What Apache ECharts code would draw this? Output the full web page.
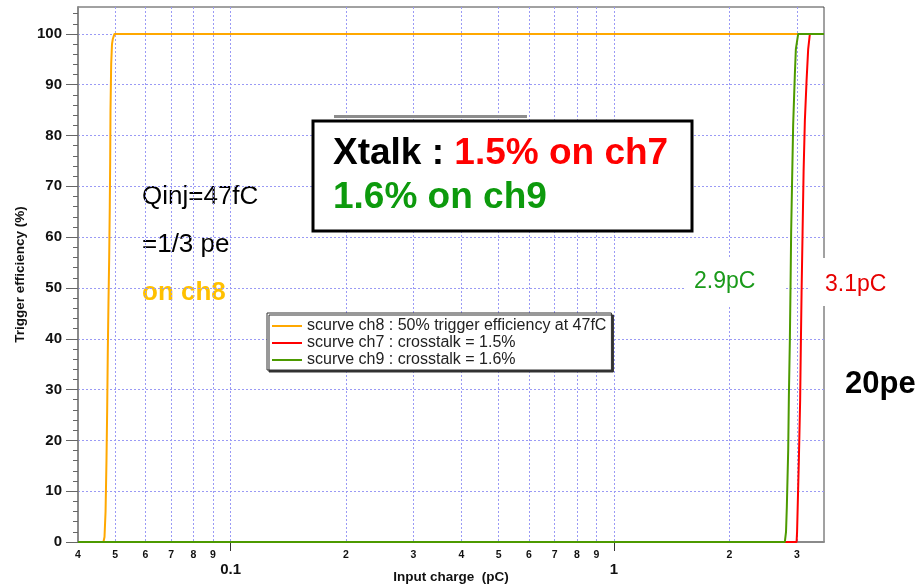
<!DOCTYPE html>
<html>
<head>
<meta charset="utf-8">
<script src="https://cdn.jsdelivr.net/npm/echarts@6/dist/echarts.min.js"></script>
<style>
html,body{margin:0;padding:0;background:#fff;}
#c{width:921px;height:585px;}
</style>
</head>
<body>
<div id="c"></div>
<script>
// ---- data ----
const seriesNames = [
  'scurve ch8 : 50% trigger efficiency at 47fC',
  'scurve ch7 : crosstalk = 1.5%',
  'scurve ch9 : crosstalk = 1.6%'
];
const ch8 = [[0.040,0],[0.0466,0],[0.0469,1],[0.0472,6],[0.04746,16],[0.04766,26],[0.04783,37],[0.04803,47],[0.04824,56],[0.04841,66],[0.04853,75],[0.04862,85],[0.04882,94],[0.04906,98],[0.0493,99],[0.0498,100],[3.53,100]];
const ch7 = [[0.040,0],[2.994,0],[3.003,2],[3.012,6],[3.035,16],[3.059,28],[3.072,39],[3.085,49],[3.104,61],[3.123,73],[3.147,83],[3.18,91],[3.21,97],[3.243,100],[3.53,100]];
const ch9 = [[0.040,0],[2.79,0],[2.81,2],[2.824,7],[2.847,18],[2.859,29],[2.876,40],[2.888,51],[2.898,61],[2.916,72],[2.933,82],[2.963,92],[2.981,97],[3.023,100],[3.53,100]];

const xGridValues = [0.04,0.05,0.06,0.07,0.08,0.09,0.1,0.2,0.3,0.4,0.5,0.6,0.7,0.8,0.9,1,2,3];
const xMinorLabelValues = [0.04,0.05,0.06,0.07,0.08,0.09,0.2,0.3,0.4,0.5,0.6,0.7,0.8,0.9,2,3];
const xMinorLabels = ['4','5','6','7','8','9','2','3','4','5','6','7','8','9','2','3'];
const xMajorValues = [0.1,1];
const xMajorLabels = ['0.1','1'];
const yTickValues = [0,10,20,30,40,50,60,70,80,90,100];
const yMinorTickValues = [2,4,6,8,12,14,16,18,22,24,26,28,32,34,36,38,42,44,46,48,52,54,56,58,62,64,66,68,72,74,76,78,82,84,86,88,92,94,96,98,102,104];
const xMin = 0.04, xMax = 3.53, yMin = 0, yMax = 105.3;

function lookup(vals, labels, v){
  let best = 0, bd = Infinity;
  for (let i = 0; i < vals.length; i++){
    const d = Math.abs(Math.log(vals[i]) - Math.log(v));
    if (d < bd){ bd = d; best = i; }
  }
  return labels[best];
}

const FONT = '"Liberation Sans", Arial, sans-serif';
const gridBlue = '#9a9af5';

const chart = echarts.init(document.getElementById('c'), null, {renderer:'canvas'});
chart.setOption({
  animation:false,
  backgroundColor:'#fff',
  textStyle:{fontFamily:FONT},
  grid:{left:78,right:97,top:7,bottom:43,show:true,borderColor:'#444',borderWidth:1,backgroundColor:'transparent',outerBoundsMode:'none'},
  legend:{
    data:seriesNames,
    orient:'vertical',
    left:267, top:313,
    padding:[5,5,2,5],
    itemGap:1,
    itemWidth:30, itemHeight:2,
    icon:'rect',
    backgroundColor:'#fff',
    borderColor:'#333', borderWidth:1,
    shadowColor:'#333', shadowBlur:0, shadowOffsetX:2, shadowOffsetY:2,
    textStyle:{fontFamily:FONT,fontSize:16,lineHeight:16,color:'#222',padding:[0,0,0,0]},
    selectedMode:false
  },
  xAxis:[
    {
      type:'log', logBase:10, min:xMin, max:xMax, gridIndex:0,
      axisLine:{show:true,onZero:false,lineStyle:{color:'#8a8a8a',width:2}},
      axisTick:{show:false,customValues:xGridValues},
      splitLine:{show:true,lineStyle:{color:gridBlue,type:[2,2],width:1}},
      axisLabel:{customValues:xMinorLabelValues,margin:8,fontSize:10.5,fontWeight:'bold',color:'#111',fontFamily:FONT,
        formatter:function(v){return lookup(xMinorLabelValues,xMinorLabels,v);}},
      name:'Input charge  (pC)', nameLocation:'middle', nameGap:28, nameMoveOverlap:false,
      nameTextStyle:{fontSize:13.5,fontWeight:'bold',color:'#111',fontFamily:FONT}
    },
    {
      type:'log', logBase:10, min:xMin, max:xMax, gridIndex:0, position:'bottom',
      axisLine:{show:false},
      axisTick:{show:true,inside:false,length:9,customValues:xMajorValues,lineStyle:{color:'#333',width:1}},
      splitLine:{show:false},
      axisLabel:{customValues:xMajorValues,margin:20,fontSize:15,fontWeight:'bold',color:'#111',fontFamily:FONT,
        formatter:function(v){return lookup(xMajorValues,xMajorLabels,v);}}
    }
  ],
  yAxis:[
    {
      type:'value', min:yMin, max:yMax, gridIndex:0,
      axisLine:{show:true,onZero:false,lineStyle:{color:'#8a8a8a',width:2}},
      axisTick:{show:true,length:12,customValues:yTickValues,lineStyle:{color:'#666',width:1}},
      splitLine:{show:true,lineStyle:{color:gridBlue,type:[2,2],width:1}},
      axisLabel:{customValues:yTickValues,margin:16,fontSize:15,fontWeight:'bold',color:'#111',fontFamily:FONT},
      name:'Trigger efficiency (%)', nameLocation:'middle', nameGap:51, nameRotate:90, nameMoveOverlap:false,
      nameTextStyle:{fontSize:13.5,fontWeight:'bold',color:'#111',fontFamily:FONT}
    },
    {
      type:'value', min:yMin, max:yMax, gridIndex:0, position:'left',
      axisLine:{show:false},
      axisTick:{show:true,length:5,customValues:yMinorTickValues,lineStyle:{color:'#666',width:1}},
      splitLine:{show:false},
      axisLabel:{show:false}
    }
  ],
  series:[
    {name:seriesNames[0],type:'line',data:ch8,xAxisIndex:0,yAxisIndex:0,showSymbol:false,symbol:'none',lineStyle:{color:'#ffa800',width:2},itemStyle:{color:'#ffa800'},z:2},
    {name:seriesNames[1],type:'line',data:ch7,xAxisIndex:0,yAxisIndex:0,showSymbol:false,symbol:'none',lineStyle:{color:'#ff0000',width:2},itemStyle:{color:'#ff0000'},z:3},
    {name:seriesNames[2],type:'line',data:ch9,xAxisIndex:0,yAxisIndex:0,showSymbol:false,symbol:'none',lineStyle:{color:'#4c9a00',width:2},itemStyle:{color:'#4c9a00'},z:4}
  ],
  graphic:[
    {type:'text',x:142,y:197,style:{text:'Qinj=47fC',font:'26px '+FONT,fill:'#000',verticalAlign:'middle'}},
    {type:'text',x:142,y:245,style:{text:'=1/3 pe',font:'26px '+FONT,fill:'#000',verticalAlign:'middle'}},
    {type:'text',x:142,y:293,style:{text:'on ch8',font:'bold 26px '+FONT,fill:'#ffc000',verticalAlign:'middle'}},
    {type:'rect',shape:{x:334,y:115,width:193,height:3},style:{fill:'#8c8c8c'},z:10},
    {type:'rect',shape:{x:313,y:121,width:379,height:110},style:{fill:'#fff',stroke:'#000',lineWidth:3},z:10},
    {type:'text',x:333,y:154,z:11,style:{text:'{a|Xtalk : }{b|1.5% on ch7}',verticalAlign:'middle',rich:{a:{font:'bold 37px '+FONT,fill:'#000'},b:{font:'bold 37px '+FONT,fill:'#ff0000'}}}},
    {type:'text',x:333,y:198,z:11,style:{text:'1.6% on ch9',font:'bold 37px '+FONT,fill:'#0d9a0d',verticalAlign:'middle'}},
    {type:'rect',shape:{x:684,y:259,width:102,height:46},style:{fill:'#fff'},z:10},
    {type:'text',x:694,y:282,z:11,style:{text:'2.9pC',font:'23px '+FONT,fill:'#1a9a1a',verticalAlign:'middle'}},
    {type:'rect',shape:{x:809,y:258,width:90,height:48},style:{fill:'#fff'},z:10},
    {type:'text',x:825,y:285,z:11,style:{text:'3.1pC',font:'23px '+FONT,fill:'#e60000',verticalAlign:'middle'}},
    {type:'text',x:845,y:384,z:11,style:{text:'20pe',font:'bold 31px '+FONT,fill:'#000',verticalAlign:'middle'}}
  ]
});
</script>
</body>
</html>
